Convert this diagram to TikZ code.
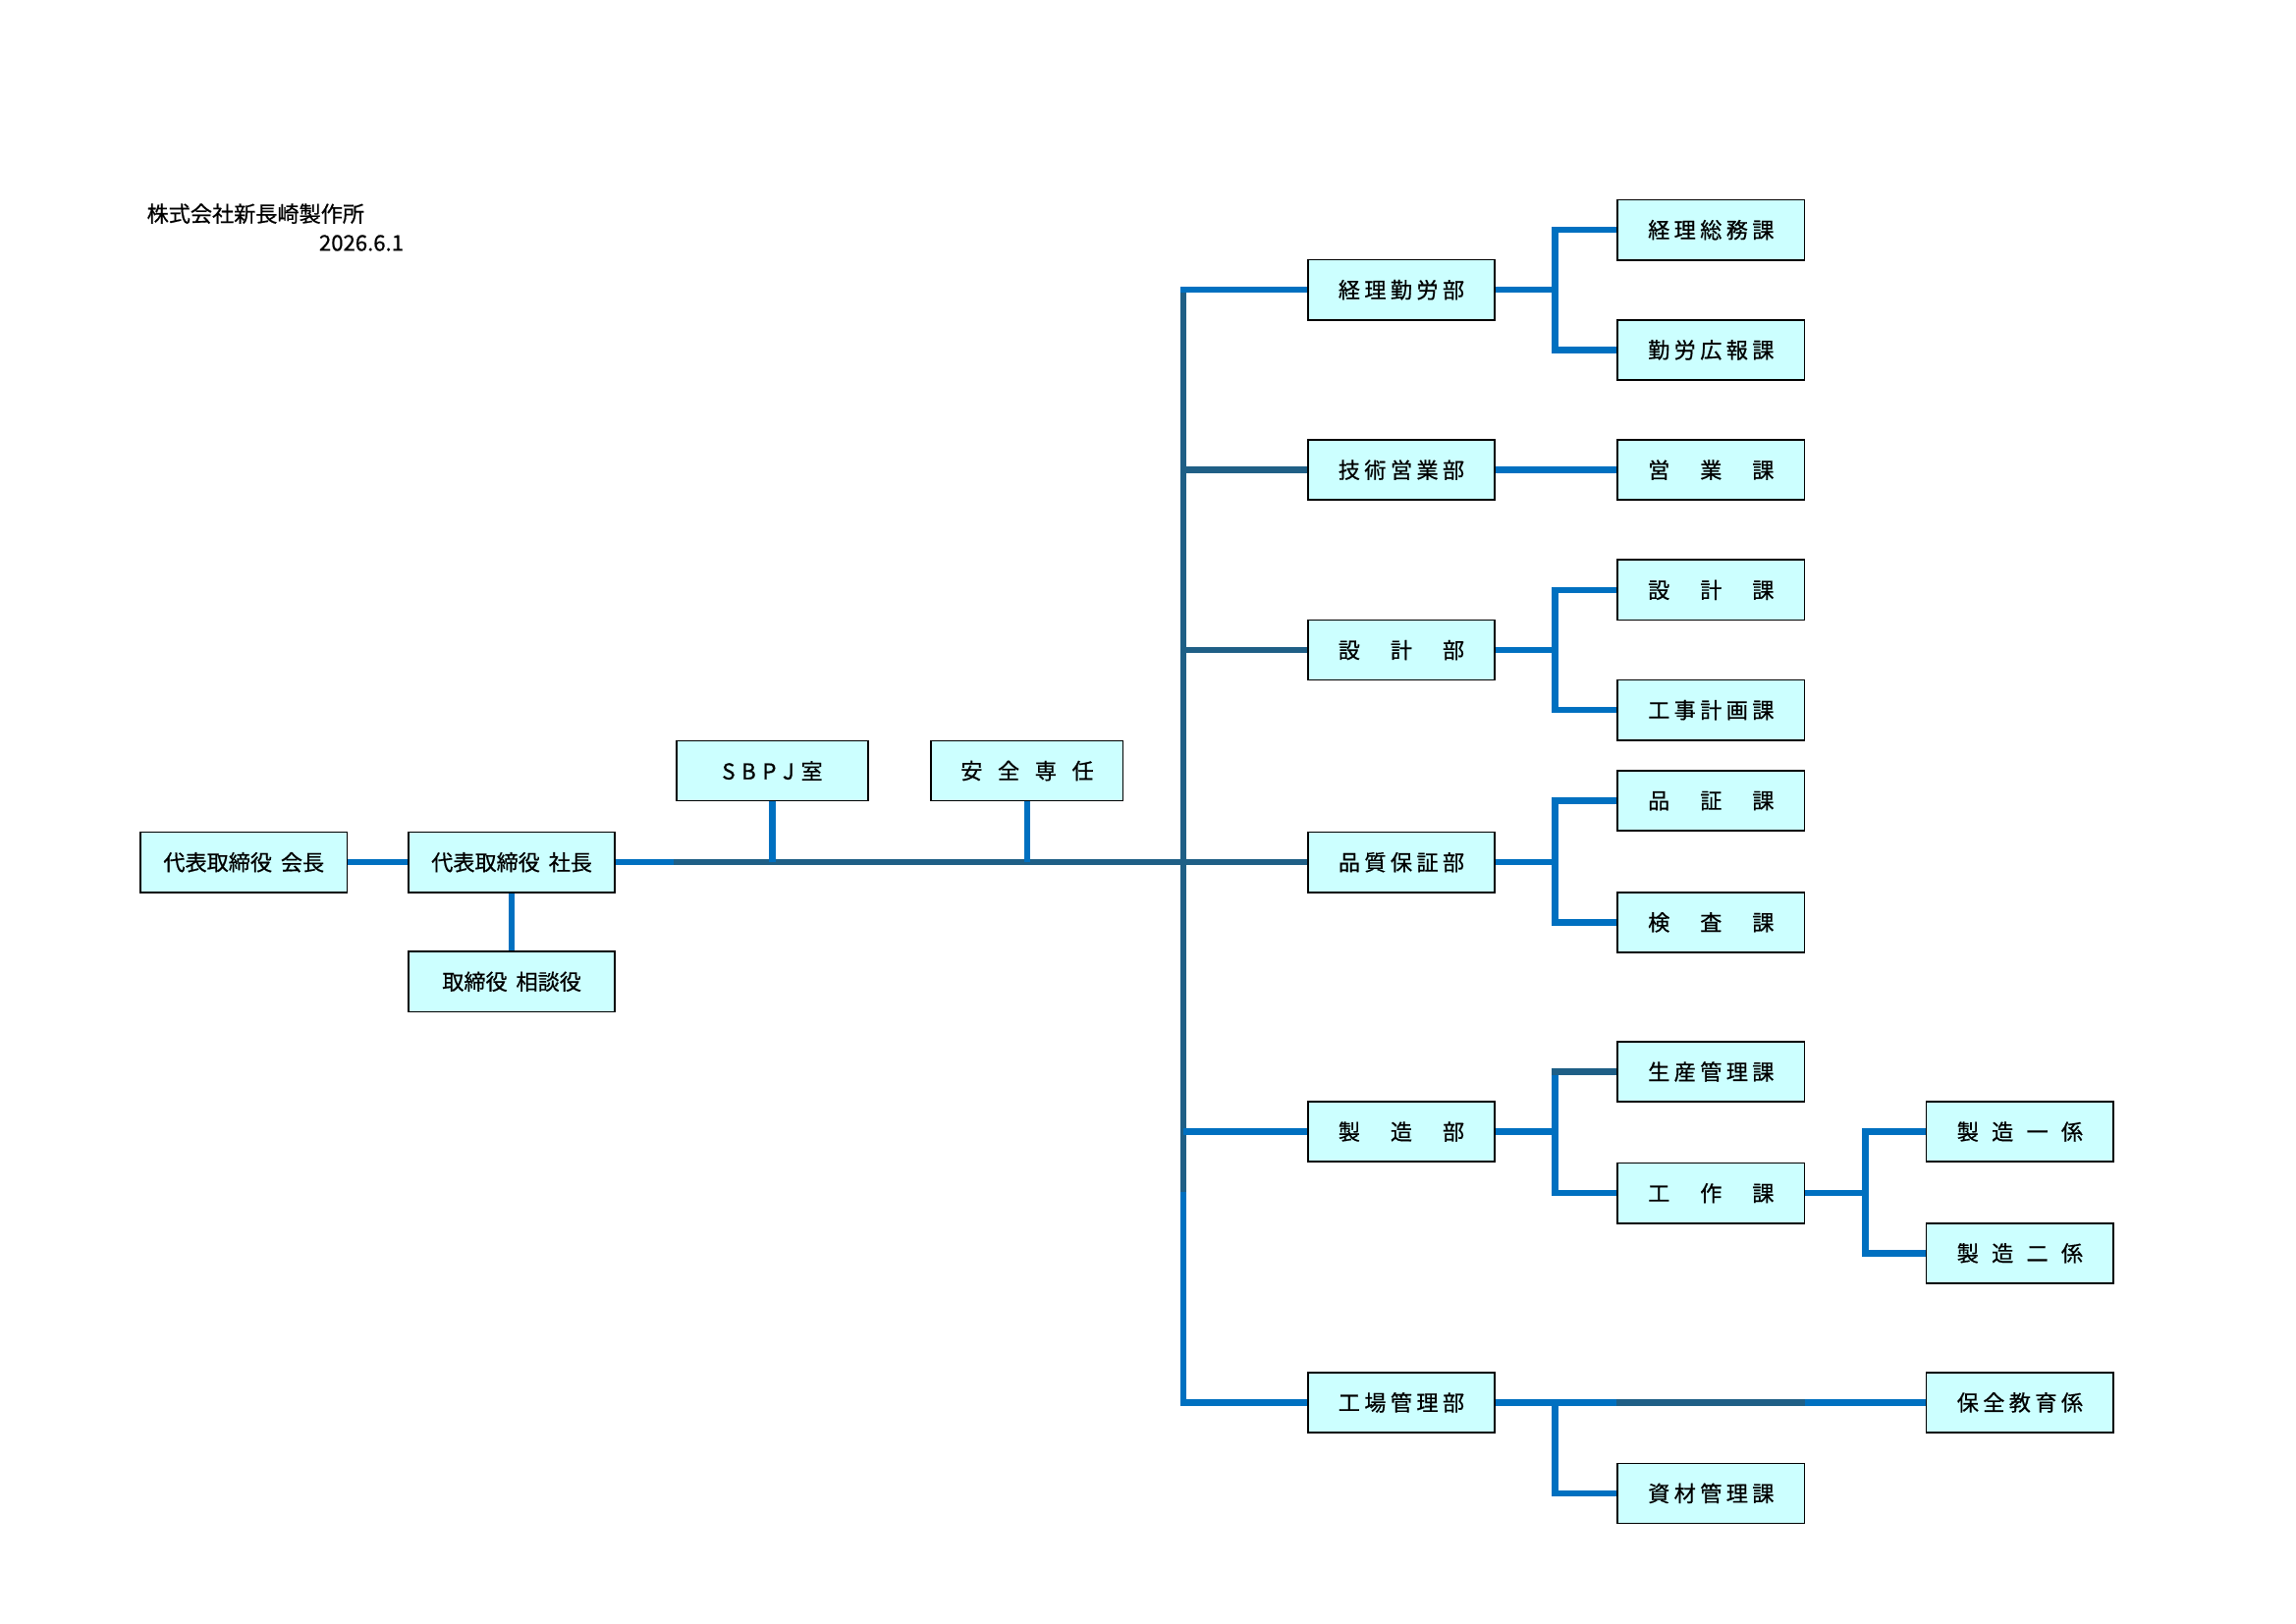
\documentclass[tikz,border=0pt]{standalone}
\usepackage{fontspec}
\setmainfont{Noto Sans CJK JP}
\newfontface\boxface{Noto Sans CJK JP}[FakeBold=0.6]
\usepackage{tikz}
\definecolor{LineBlue}{RGB}{0,112,192}
\definecolor{LineTeal}{RGB}{31,95,134}
\definecolor{BoxCyan}{RGB}{204,255,255}
\newcommand{\evenly}[2][1.63cm]{\makebox[#1][s]{#2}}

\begin{document}
\begin{tikzpicture}[
        box/.style={draw=black, line width=0.6pt, fill=BoxCyan, minimum height=0.777cm, inner sep=0pt, font=\boxface\fontsize{8pt}{9pt}\selectfont},
        topbox/.style={box, minimum width=2.671cm},
        staffbox/.style={box, minimum width=2.481cm},
        deptbox/.style={box, minimum width=2.42cm},
        blueline/.style={line width=2.3pt, LineBlue},
        tealline/.style={line width=2.3pt, LineTeal},
        heading/.style={inner sep=0pt, font=\boxface\fontsize{8pt}{9pt}\selectfont}
    ]
        \useasboundingbox (0,0) rectangle (29.7,-21.006);
        \node[heading, anchor=west] (corp) at (1.894,-2.765) {株式会社新長崎製作所};
        \node[heading, anchor=east] (date) at (5.228,-3.144) {2026.6.1};

        % top management
        \node[topbox] (kaicho) at (3.154,-11.156) {代表取締役\hspace{0.4em}会長};
        \node[topbox] (shacho) at (6.620,-11.156) {代表取締役\hspace{0.4em}社長};
        \node[topbox] (sodan) at (6.620,-12.700) {取締役\hspace{0.4em}相談役};
        \node[staffbox] (sbpj) at (9.991,-9.972) {\evenly[1.30cm]{S\hfill B\hfill P\hfill J\hfill 室}};
        \node[staffbox] (anzen) at (13.287,-9.972) {\evenly[1.72cm]{安\hfill 全\hfill 専\hfill 任}};

        % departments
        \node[deptbox] (keiri) at (18.127,-3.750) {\evenly{経\hfill 理\hfill 勤\hfill 労\hfill 部}};
        \node[deptbox] (gijutsu) at (18.127,-6.080) {\evenly{技\hfill 術\hfill 営\hfill 業\hfill 部}};
        \node[deptbox] (sekkei) at (18.127,-8.410) {\evenly{設\hfill 計\hfill 部}};
        \node[deptbox] (hinshitsu) at (18.127,-11.156) {\evenly{品\hfill 質\hfill 保\hfill 証\hfill 部}};
        \node[deptbox] (seizo) at (18.127,-14.641) {\evenly{製\hfill 造\hfill 部}};
        \node[deptbox] (kojo) at (18.127,-18.145) {\evenly{工\hfill 場\hfill 管\hfill 理\hfill 部}};

        % sections
        \node[deptbox] (keisomu) at (22.133,-2.974) {\evenly{経\hfill 理\hfill 総\hfill 務\hfill 課}};
        \node[deptbox] (kinro) at (22.133,-4.527) {\evenly{勤\hfill 労\hfill 広\hfill 報\hfill 課}};
        \node[deptbox] (eigyo) at (22.133,-6.080) {\evenly{営\hfill 業\hfill 課}};
        \node[deptbox] (sekkeika) at (22.133,-7.633) {\evenly{設\hfill 計\hfill 課}};
        \node[deptbox] (koji) at (22.133,-9.186) {\evenly{工\hfill 事\hfill 計\hfill 画\hfill 課}};
        \node[deptbox] (hinsho) at (22.133,-10.361) {\evenly{品\hfill 証\hfill 課}};
        \node[deptbox] (kensa) at (22.133,-11.933) {\evenly{検\hfill 査\hfill 課}};
        \node[deptbox] (seisan) at (22.133,-13.865) {\evenly{生\hfill 産\hfill 管\hfill 理\hfill 課}};
        \node[deptbox] (kosaku) at (22.133,-15.437) {\evenly{工\hfill 作\hfill 課}};
        \node[deptbox] (shizai) at (22.133,-19.320) {\evenly{資\hfill 材\hfill 管\hfill 理\hfill 課}};

        % groups
        \node[deptbox] (ichi) at (26.129,-14.641) {\evenly{製\hfill 造\hfill 一\hfill 係}};
        \node[deptbox] (ni) at (26.129,-16.213) {\evenly{製\hfill 造\hfill 二\hfill 係}};
        \node[deptbox] (hozen) at (26.129,-18.145) {\evenly{保\hfill 全\hfill 教\hfill 育\hfill 係}};

        \coordinate (trunk) at (15.304,-11.156);
        \coordinate (trunkbend) at (15.304,-15.418);
        \coordinate (fork) at (20.115,-11.156);
        \coordinate (fork2) at (24.131,-15.437);

        \draw[blueline] (kaicho) -- (shacho);
        \draw[blueline] (shacho) -- (sodan);
        \draw[tealline] (shacho.east) -- (hinshitsu.west);
        \draw[blueline] (shacho.east) -- ++(0.75,0);
        \draw[blueline] (sbpj) -- (sbpj |- shacho);
        \draw[blueline] (anzen) -- (anzen |- shacho);

        % trunk
        \draw[tealline, shorten <=-1.15pt] (trunk |- keiri) -- (trunkbend);
        \draw[blueline, shorten >=-1.15pt] (trunkbend) -- (trunk |- kojo);
        \draw[blueline, shorten >=-1.15pt] (keiri.west) -- (trunk |- keiri);
        \draw[tealline] (gijutsu.west) -- (trunk |- gijutsu);
        \draw[tealline] (sekkei.west) -- (trunk |- sekkei);
        \draw[blueline] (seizo.west) -- (trunk |- seizo);
        \draw[blueline, shorten >=-1.15pt] (kojo.west) -- (trunk |- kojo);

        % departments to sections
        \draw[blueline] (keiri) -- (fork |- keiri);
        \draw[blueline] (keisomu.west) -| (fork |- kinro) -- (kinro.west);
        \draw[blueline] (gijutsu) -- (eigyo);
        \draw[blueline] (sekkei) -- (fork |- sekkei);
        \draw[blueline] (sekkeika.west) -| (fork |- koji) -- (koji.west);
        \draw[blueline] (hinshitsu) -- (fork |- hinshitsu);
        \draw[blueline] (hinsho.west) -| (fork |- kensa) -- (kensa.west);
        \draw[blueline] (seizo) -- (fork |- seizo);
        \draw[blueline] (fork |- seisan) -- (fork |- kosaku) -- (kosaku.west);
        \draw[tealline, shorten >=-1.15pt] (seisan.west) -- (fork |- seisan);
        \draw[blueline] (kosaku) -- (fork2);
        \draw[blueline] (ichi.west) -| (fork2 |- ni) -- (ni.west);
        \draw[blueline] (kojo) -- (hozen);
        \draw[tealline] (shizai.west |- kojo) -- (shizai.east |- kojo);
        \draw[blueline] (fork |- kojo) |- (shizai.west);
    \end{tikzpicture}
\end{document}
